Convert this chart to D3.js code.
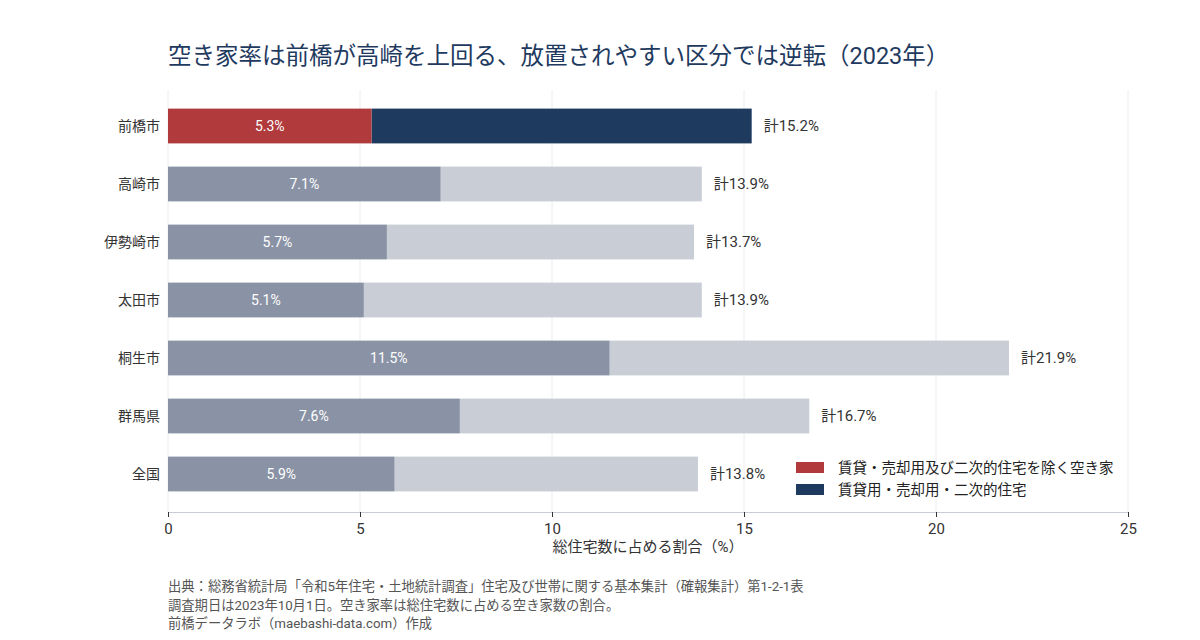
<!DOCTYPE html>
<html>
<head>
<meta charset="utf-8">
<script src="https://cdn.jsdelivr.net/npm/d3@7"></script>
<style>
  body { margin: 0; background: #fff; }
  text { font-family: Roboto, "Noto Sans CJK JP", sans-serif; }
</style>
</head>
<body>
<div id="chart"></div>
<script>
// 空き家率（2023年）
var areas   = ['前橋市', '高崎市', '伊勢崎市', '太田市', '桐生市', '群馬県', '全国'];
var neglect = [5.3, 7.1, 5.7, 5.1, 11.5, 7.6, 5.9];       // 賃貸・売却用及び二次的住宅を除く空き家
var totals  = [15.2, 13.9, 13.7, 13.9, 21.9, 16.7, 13.8]; // 空き家率 計
var xTicks  = [0, 5, 10, 15, 20, 25];
var legendLabels = ['賃貸・売却用及び二次的住宅を除く空き家', '賃貸用・売却用・二次的住宅'];
var notes = [
    '出典：総務省統計局「令和5年住宅・土地統計調査」住宅及び世帯に関する基本集計（確報集計）第1-2-1表',
    '調査期日は2023年10月1日。空き家率は総住宅数に占める空き家数の割合。',
    '前橋データラボ（maebashi-data.com）作成'
];

var width = 1200, height = 640;
var svg = d3.select('#chart').append('svg')
    .attr('width', width)
    .attr('height', height);

var x = d3.scaleLinear().domain([0, 25]).range([168, 1128]);
var y = d3.scaleBand().domain(areas).range([97, 503])
    .paddingInner(0.4).paddingOuter(0.2);

// grid
svg.append('g').selectAll('line')
    .data(xTicks)
    .enter().append('line')
    .attr('x1', function(d) { return x(d); })
    .attr('x2', function(d) { return x(d); })
    .attr('y1', 90).attr('y2', 512)
    .attr('stroke', '#ececf0')
    .attr('stroke-width', 1);

// title
svg.append('text')
    .attr('x', 168).attr('y', 64)
    .attr('font-size', 23.5)
    .attr('fill', '#1f3a5f')
    .text('空き家率は前橋が高崎を上回る、放置されやすい区分では逆転（2023年）');

// bars
var rows = areas.map(function(a, i) {
    return { area: a, part: neglect[i], total: totals[i], hi: i === 0 };
});

var g = svg.append('g');
var row = g.selectAll('g.row').data(rows).enter().append('g').attr('class', 'row');

row.append('rect')
    .attr('x', function(d) { return x(d.part); })
    .attr('y', function(d) { return y(d.area); })
    .attr('width', function(d) { return x(d.total) - x(d.part); })
    .attr('height', y.bandwidth())
    .attr('fill', function(d) { return d.hi ? '#1f3a5f' : '#c9cdd5'; });

row.append('rect')
    .attr('x', x(0))
    .attr('y', function(d) { return y(d.area); })
    .attr('width', function(d) { return x(d.part) - x(0); })
    .attr('height', y.bandwidth())
    .attr('fill', function(d) { return d.hi ? '#b03a3c' : '#8a93a5'; });

row.append('text')
    .attr('x', function(d) { return (x(0) + x(d.part)) / 2; })
    .attr('y', function(d) { return y(d.area) + y.bandwidth() / 2; })
    .attr('dy', '0.35em')
    .attr('text-anchor', 'middle')
    .attr('font-size', 14)
    .attr('fill', '#fff')
    .text(function(d) { return d.part.toFixed(1) + '%'; });

row.append('text')
    .attr('x', function(d) { return x(d.total) + 12; })
    .attr('y', function(d) { return y(d.area) + y.bandwidth() / 2; })
    .attr('dy', '0.35em')
    .attr('font-size', 15)
    .attr('fill', '#333')
    .text(function(d) { return '計' + d.total.toFixed(1) + '%'; });

// y labels
row.append('text')
    .attr('x', 160)
    .attr('y', function(d) { return y(d.area) + y.bandwidth() / 2; })
    .attr('dy', '0.35em')
    .attr('text-anchor', 'end')
    .attr('font-size', 14)
    .attr('fill', '#333')
    .text(function(d) { return d.area; });

// x axis
var xAxis = svg.append('g')
    .attr('transform', 'translate(0,512)')
    .call(d3.axisBottom(x).tickValues(xTicks).tickSize(5).tickPadding(6));
xAxis.select('.domain').attr('stroke', '#c8ccd8');
xAxis.selectAll('.tick line').attr('stroke', '#333');
xAxis.selectAll('.tick text')
    .attr('font-size', 15)
    .attr('fill', '#333')
    .style('font-family', 'Roboto, sans-serif');

svg.append('text')
    .attr('x', x(12.5)).attr('y', 552)
    .attr('text-anchor', 'middle')
    .attr('font-size', 15)
    .attr('fill', '#333')
    .text('総住宅数に占める割合（%）');

// legend
var legend = svg.append('g').attr('transform', 'translate(796,462)');
var colors = ['#b03a3c', '#1f3a5f'];
legendLabels.forEach(function(l, i) {
    legend.append('rect')
        .attr('x', 0).attr('y', i * 22)
        .attr('width', 28).attr('height', 11)
        .attr('fill', colors[i]);
    legend.append('text')
        .attr('x', 42).attr('y', i * 22 + 6)
        .attr('dy', '0.35em')
        .attr('font-size', 14.5)
        .attr('fill', '#222')
        .text(l);
});

// notes
svg.append('g').selectAll('text')
    .data(notes)
    .enter().append('text')
    .attr('x', 168)
    .attr('y', function(d, i) { return 591 + i * 18.5; })
    .attr('font-size', 13.3)
    .attr('fill', '#555')
    .text(function(d) { return d; });
</script>
</body>
</html>
